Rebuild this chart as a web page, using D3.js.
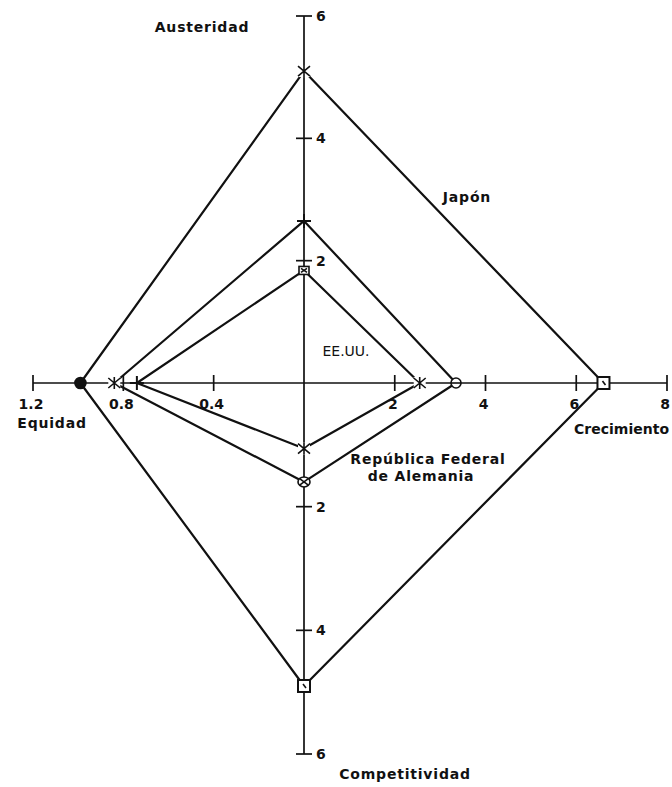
<!DOCTYPE html>
<html>
<head>
<meta charset="utf-8">
<script src="https://cdn.jsdelivr.net/npm/d3@7"></script>
<style>
  body { margin: 0; background: #fff; }
  text { font-family: "DejaVu Sans", sans-serif; font-weight: bold; fill: #111; }
</style>
</head>
<body>
<svg class="chart"></svg>
<script>
// Axis names, clockwise from the top
var axisNames = ["Austeridad", "Crecimiento", "Competitividad", "Equidad"];
var axisMax = [6, 8, 6, 1.2];

// Ticks on each half-axis
var ticksAusteridad = [2, 4, 6];
var ticksCrecimiento = [2, 4, 6, 8];
var ticksCompetitividad = [2, 4, 6];
var ticksEquidad = [0.4, 0.8, 1.2];

// Series values: Austeridad, Crecimiento, Competitividad, Equidad
var seriesNames = ["Japón", "República Federal de Alemania", "EE.UU."];
var japon = [5.1, 6.6, 4.9, 0.99];
var alemania = [2.65, 3.35, 1.6, 0.84];
var eeuu = [1.84, 2.55, 1.06, 0.74];

var width = 672, height = 787;
var cx = 304, cy = 383;

var svg = d3.select(".chart")
    .attr("width", width)
    .attr("height", height);

// one scale per half-axis (pixel distance from the centre)
var rUp = d3.scaleLinear().domain([0, axisMax[0]]).range([0, 367]);
var rRight = d3.scaleLinear().domain([0, axisMax[1]]).range([0, 363]);
var rDown = d3.scaleLinear().domain([0, axisMax[2]]).range([0, 371]);
var rLeft = d3.scaleLinear().domain([0, axisMax[3]]).range([0, 271]);

function point(i, v) {
    if (i == 0) return [cx, cy - rUp(v)];
    if (i == 1) return [cx + rRight(v), cy];
    if (i == 2) return [cx, cy + rDown(v)];
    return [cx - rLeft(v), cy];
}

var axes = svg.append("g")
    .attr("stroke", "#111")
    .attr("stroke-width", 1.7);

// main cross
axes.append("line")
    .attr("x1", point(3, axisMax[3])[0]).attr("y1", cy)
    .attr("x2", point(1, axisMax[1])[0]).attr("y2", cy);
axes.append("line")
    .attr("x1", cx).attr("y1", point(0, axisMax[0])[1])
    .attr("x2", cx).attr("y2", point(2, axisMax[2])[1]);

var tickSets = [ticksAusteridad, ticksCrecimiento, ticksCompetitividad, ticksEquidad];
var fmt = [d3.format("d"), d3.format("d"), d3.format("d"), d3.format(".1f")];

tickSets.forEach(function(ticks, i) {
    ticks.forEach(function(t) {
        var p = point(i, t);
        var vertical = (i == 0 || i == 2);
        axes.append("line")
            .attr("x1", vertical ? p[0] - 8 : p[0])
            .attr("x2", vertical ? p[0] + 8 : p[0])
            .attr("y1", vertical ? p[1] : p[1] - 8)
            .attr("y2", vertical ? p[1] : p[1] + 8);
        svg.append("text")
            .attr("x", vertical ? p[0] + 12 : p[0] - 2)
            .attr("y", vertical ? p[1] + 1 : p[1] + 26)
            .attr("text-anchor", vertical ? "start" : "middle")
            .attr("dominant-baseline", vertical ? "middle" : "auto")
            .attr("font-size", 14)
            .text(fmt[i](t));
    });
});

// markers used at each vertex, as drawn on the original plot
var markers = [
    ["asterisk", "square", "square", "filled"],
    ["plus", "circleBar", "circleX", "asterisk"],
    ["box", "asterisk", "asterisk", "plus"]
];

function drawMarker(g, type, p) {
    var x = p[0], y = p[1], s = 6;
    var m = g.append("g").attr("transform", "translate(" + x + "," + y + ")")
        .attr("stroke", "#111").attr("stroke-width", 1.6).attr("fill", "#fff");
    if (type == "square") {
        m.append("rect").attr("x", -6).attr("y", -6).attr("width", 12).attr("height", 12)
            .attr("stroke-width", 2);
        m.append("line").attr("x1", -1).attr("y1", -2).attr("x2", 2).attr("y2", 2);
    } else if (type == "filled") {
        m.append("circle").attr("r", 5.5).attr("fill", "#111");
    } else if (type == "asterisk") {
        m.append("rect").attr("x", -s).attr("y", -s).attr("width", 2 * s).attr("height", 2 * s)
            .attr("stroke", "none");
        m.append("path").attr("d", "M0,-" + s + "V" + s + "M-" + s + ",-" + (s - 1) + "L" + s + "," + (s - 1) +
            "M-" + s + "," + (s - 1) + "L" + s + ",-" + (s - 1)).attr("fill", "none");
    } else if (type == "plus") {
        m.append("path").attr("d", "M0,-7V7M-7,0H7").attr("fill", "none").attr("stroke-width", 2);
    } else if (type == "circleBar") {
        m.append("circle").attr("r", 5);
        m.append("line").attr("x1", -5).attr("x2", 5);
    } else if (type == "circleX") {
        m.append("ellipse").attr("rx", 6).attr("ry", 5);
        m.append("path").attr("d", "M-4,-3L4,3M-4,3L4,-3").attr("fill", "none");
    } else if (type == "box") {
        m.append("rect").attr("x", -5).attr("y", -4).attr("width", 10).attr("height", 8);
        m.append("path").attr("d", "M-3,-2L3,2M-3,2L3,-2").attr("fill", "none");
    }
}

var line = d3.line().curve(d3.curveLinearClosed);
var polys = svg.append("g")
    .attr("fill", "none")
    .attr("stroke", "#111")
    .attr("stroke-width", 2.2)
    .attr("stroke-linejoin", "round");

var allSeries = [japon, alemania, eeuu];
allSeries.forEach(function(values) {
    polys.append("path")
        .attr("d", line(values.map(function(v, i) { return point(i, v); })));
});

var marks = svg.append("g");
allSeries.forEach(function(values, s) {
    values.forEach(function(v, i) {
        drawMarker(marks, markers[s][i], point(i, v));
    });
});

// axis titles and series labels
var labels = [
    {text: axisNames[0], x: 202, y: 28},
    {text: axisNames[1], x: 669, y: 430, anchor: "end", spacing: 0},
    {text: axisNames[2], x: 405, y: 775},
    {text: axisNames[3], x: 52, y: 424},
    {text: seriesNames[0], x: 467, y: 198},
    {text: "República Federal", x: 428, y: 460},
    {text: "de Alemania", x: 421, y: 477},
    {text: seriesNames[2], x: 346, y: 352, weight: "normal", spacing: 0}
];

svg.append("g").selectAll("text")
    .data(labels).enter()
    .append("text")
    .attr("x", function(d) { return d.x; })
    .attr("y", function(d) { return d.y; })
    .attr("text-anchor", function(d) { return d.anchor || "middle"; })
    .attr("dominant-baseline", "middle")
    .attr("font-size", 14)
    .attr("letter-spacing", function(d) { return d.spacing != null ? d.spacing : 0.8; })
    .style("font-weight", function(d) { return d.weight || "bold"; })
    .text(function(d) { return d.text; });
</script>
</body>
</html>
